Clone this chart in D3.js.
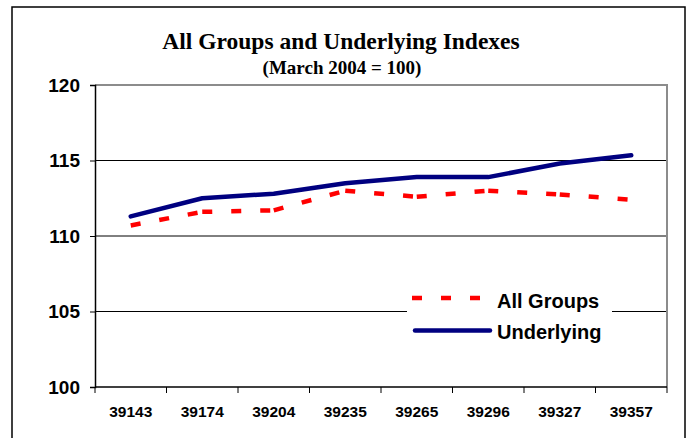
<!DOCTYPE html>
<html>
<head>
<meta charset="utf-8">
<script src="https://cdn.jsdelivr.net/npm/d3@7/dist/d3.min.js"></script>
<style>
  html, body { margin: 0; padding: 0; background: #fff; }
  svg { display: block; }
</style>
</head>
<body>
<div id="chart"></div>
<script>
(function() {
    'use strict';

    // data
    var categories = ['39143', '39174', '39204', '39235', '39265', '39296', '39327', '39357'];
    var allGroups = [110.7, 111.6, 111.7, 113.0, 112.6, 113.0, 112.75, 112.4];
    var underlying = [111.3, 112.5, 112.8, 113.5, 113.9, 113.9, 114.8, 115.35];
    var yTicks = [100, 105, 110, 115, 120];

    var width = 690, height = 438;
    var plot = {left: 95, top: 85, right: 667, bottom: 387};

    var svg = d3.select('#chart').append('svg')
        .attr('width', width).attr('height', height);

    // outer chart border (runs past the bottom of the window)
    svg.append('rect')
        .attr('x', 12).attr('y', 7)
        .attr('width', 673).attr('height', 460)
        .attr('fill', '#fff').attr('stroke', '#000').attr('stroke-width', 1.5);

    // titles
    svg.append('text')
        .attr('x', 341).attr('y', 49)
        .attr('text-anchor', 'middle')
        .attr('font-family', '"Liberation Serif", "Times New Roman", serif')
        .attr('font-weight', 'bold').attr('font-size', '23.5px')
        .text('All Groups and Underlying Indexes');
    svg.append('text')
        .attr('x', 342).attr('y', 74)
        .attr('text-anchor', 'middle')
        .attr('font-family', '"Liberation Serif", "Times New Roman", serif')
        .attr('font-weight', 'bold').attr('font-size', '19px')
        .text('(March 2004 = 100)');

    // scales
    var x = d3.scaleBand().domain(categories).range([plot.left, plot.right]);
    var y = d3.scaleLinear().domain([100, 120]).range([plot.bottom, plot.top]);
    var cx = function(i) { return x(categories[i]) + x.bandwidth() / 2; };

    // gridlines
    svg.append('g').selectAll('line')
        .data(yTicks.filter(function(v) { return v > 100 && v < 120; }))
        .enter().append('line')
        .attr('x1', plot.left).attr('x2', plot.right)
        .attr('y1', function(d) { return y(d); })
        .attr('y2', function(d) { return y(d); })
        .attr('stroke', '#000').attr('stroke-width', 1);

    // plot border: grey on top and right
    svg.append('path')
        .attr('d', 'M' + plot.left + ',' + plot.top + 'H' + plot.right + 'V' + plot.bottom)
        .attr('fill', 'none').attr('stroke', '#8c8c8c').attr('stroke-width', 2);

    // y axis
    var yAxis = svg.append('g')
        .attr('transform', 'translate(' + plot.left + ',0)')
        .call(d3.axisLeft(y).tickValues(yTicks).tickSize(5).tickPadding(10)
            .tickFormat(d3.format('d')));
    yAxis.select('.domain').attr('stroke', '#000').attr('stroke-width', 1.5);
    yAxis.selectAll('.tick line').attr('stroke', '#000');
    yAxis.selectAll('text')
        .attr('font-family', 'Arial, "Liberation Sans", sans-serif')
        .attr('font-weight', 'bold').attr('font-size', '19px')
        .attr('fill', '#000');

    // x axis: ticks at category boundaries
    var xg = svg.append('g').attr('transform', 'translate(0,' + plot.bottom + ')');
    xg.append('line')
        .attr('x1', plot.left).attr('x2', plot.right)
        .attr('stroke', '#000').attr('stroke-width', 1.5);
    var bounds = categories.map(function(c) { return x(c); }).concat([plot.right]);
    xg.selectAll('line.tk').data(bounds).enter().append('line')
        .attr('class', 'tk')
        .attr('x1', function(d) { return d; }).attr('x2', function(d) { return d; })
        .attr('y1', 0).attr('y2', 6)
        .attr('stroke', '#000').attr('stroke-width', 1);
    xg.selectAll('text').data(categories).enter().append('text')
        .attr('x', function(d) { return x(d) + x.bandwidth() / 2; })
        .attr('y', 30)
        .attr('text-anchor', 'middle')
        .attr('font-family', 'Arial, "Liberation Sans", sans-serif')
        .attr('font-weight', 'bold').attr('font-size', '15.5px')
        .text(function(d) { return d; });

    // All Groups: dashed, pattern restarts on every segment
    var segs = d3.pairs(allGroups.map(function(v, i) { return [cx(i), y(v)]; }));
    svg.append('g').selectAll('line')
        .data(segs).enter().append('line')
        .attr('x1', function(d) { return d[0][0]; })
        .attr('y1', function(d) { return d[0][1]; })
        .attr('x2', function(d) { return d[1][0]; })
        .attr('y2', function(d) { return d[1][1]; })
        .attr('stroke', '#ff0000').attr('stroke-width', 4.5)
        .attr('stroke-dasharray', '10,19');

    // Underlying: solid navy
    var line = d3.line()
        .x(function(d, i) { return cx(i); })
        .y(function(d) { return y(d); });
    svg.append('path')
        .datum(underlying)
        .attr('d', line)
        .attr('fill', 'none').attr('stroke', '#000080')
        .attr('stroke-width', 4.5).attr('stroke-linecap', 'round')
        .attr('stroke-linejoin', 'round');

    // legend
    var lg = svg.append('g');
    lg.append('rect')
        .attr('x', 407).attr('y', 287).attr('width', 205).attr('height', 60)
        .attr('fill', '#fff');
    lg.append('line')
        .attr('x1', 412).attr('x2', 481).attr('y1', 298).attr('y2', 298)
        .attr('stroke', '#ff0000').attr('stroke-width', 4.5)
        .attr('stroke-dasharray', '10,19');
    lg.append('line')
        .attr('x1', 415).attr('x2', 490).attr('y1', 330.5).attr('y2', 330.5)
        .attr('stroke', '#000080').attr('stroke-width', 4.5)
        .attr('stroke-linecap', 'round');
    lg.selectAll('text')
        .data([['All Groups', 308], ['Underlying', 339]])
        .enter().append('text')
        .attr('x', 497).attr('y', function(d) { return d[1]; })
        .attr('font-family', 'Arial, "Liberation Sans", sans-serif')
        .attr('font-weight', 'bold').attr('font-size', '20px')
        .text(function(d) { return d[0]; });
})();
</script>
</body>
</html>
